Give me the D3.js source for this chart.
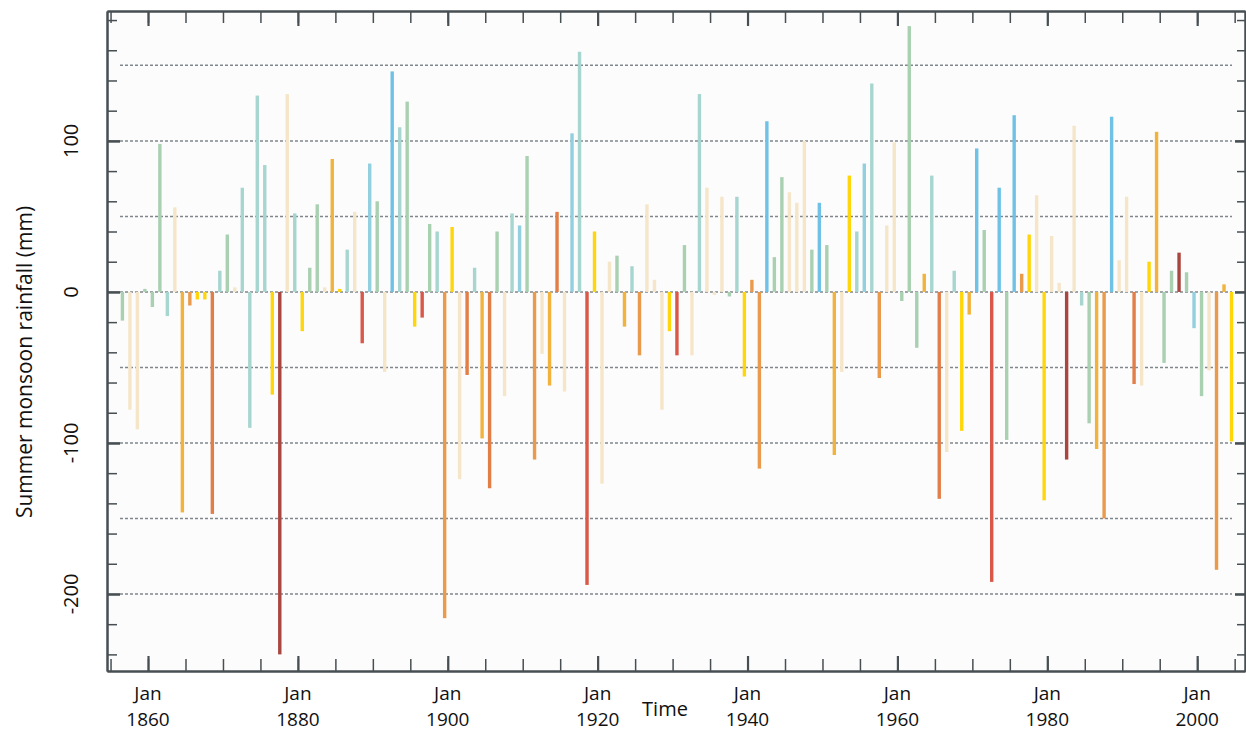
<!DOCTYPE html>
<html>
<head>
<meta charset="utf-8">
<script src="https://cdn.jsdelivr.net/npm/d3@7"></script>
<style>
  body { margin: 0; background: #ffffff; }
  svg { display: block; }
</style>
</head>
<body>
<div id="container"></div>
<script>
// one bar per summer monsoon, 1856 - 2004
const firstYear = 1856;
const rainfall = [
  -19, -78, -91, 2, -10, 98, -16, 56, -146, -9,
  -5, -5, -147, 14, 38, 3, 69, -90, 130, 84,
  -68, -240, 131, 52, -26, 16, 58, 3, 88, 2,
  28, 53, -34, 85, 60, -53, 146, 109, 126, -23,
  -17, 45, 40, -216, 43, -124, -55, 16, -97, -130,
  40, -69, 52, 44, 90, -111, -41, -62, 53, -66,
  105, 159, -194, 40, -127, 20, 24, -23, 17, -42,
  58, 8, -78, -26, -42, 31, -42, 131, 69, -2,
  63, -3, 63, -56, 8, -117, 113, 23, 76, 66,
  59, 100, 28, 59, 31, -108, -53, 77, 40, 85,
  138, -57, 44, 99, -6, 176, -37, 12, 77, -137,
  -106, 14, -92, -15, 95, 41, -192, 69, -98, 117,
  12, 38, 64, -138, 37, 6, -111, 110, -9, -87,
  -104, -150, 116, 21, 63, -61, -62, 20, 106, -47,
  14, 26, 13, -24, -69, -52, -184, 5, -99
];
// colour class of every bar, same order
const barClass = (
  "g c c g g g t c a o " +
  "y y d t g c t t t t " +
  "y k c t y g g c a y " +
  "t c r l g c b t g y " +
  "r g t o y c d t a d " +
  "g c t l g o c a d c " +
  "l t r y c c g a t o " +
  "c c c y r g c t c c " +
  "c g t y o o b g g c " +
  "c c g b g a c y t l " +
  "t o c c g g g a t d " +
  "c t y a b g r b g b " +
  "o y c y c c k c t g " +
  "a o b c c d c y a g " +
  "g k g l g c o a y"
).split(" ");

const palette = {
  g: "#a9d0b1", t: "#a7d5cf", c: "#f6e6c9", b: "#6fc2e6", l: "#92d0df",
  y: "#ffd60a", a: "#f2b33d", o: "#ea9a4c", d: "#e27f48", r: "#d95849", k: "#a9463f"
};

const gridValues = [150, 100, 50, 0, -50, -100, -150, -200];
const yLabelValues = [100, 0, -100, -200];
const xLabelYears = [1860, 1880, 1900, 1920, 1940, 1960, 1980, 2000];

const data = rainfall.map((v, i) => ({ year: firstYear + i, value: v, cls: barClass[i] }));

const width = 1246, height = 732;
const plot = { left: 107, right: 1245, top: 11, bottom: 671 };
const axisColor = "#474f53";
const font = "'Open Sans', 'Noto Sans', sans-serif";

const svg = d3.select("#container").append("svg")
  .attr("width", width).attr("height", height);

svg.append("rect").attr("width", width).attr("height", height).attr("fill", "#ffffff");
svg.append("rect")
  .attr("x", plot.left).attr("y", plot.top)
  .attr("width", plot.right - plot.left).attr("height", plot.bottom - plot.top)
  .attr("fill", "#fcfcfc");

const xScale = d3.scaleTime()
  .domain([new Date(1854, 6, 12), new Date(2006, 4, 20)])
  .range([plot.left, plot.right]);

const yScale = d3.scaleLinear()
  .domain([-251, 186])
  .range([plot.bottom, plot.top]);

// dashed grid
svg.append("g")
  .selectAll("line")
  .data(gridValues)
  .enter()
  .append("line")
  .attr("x1", 120).attr("x2", 1232)
  .attr("y1", d => yScale(d)).attr("y2", d => yScale(d))
  .attr("stroke", "#80878c")
  .attr("stroke-width", 1.5)
  .attr("stroke-dasharray", "3,2");

// bars
svg.append("g")
  .selectAll("rect")
  .data(data)
  .enter()
  .append("rect")
  .attr("x", d => xScale(new Date(d.year, 7, 1)) - 1.7)
  .attr("width", 3.4)
  .attr("y", d => yScale(Math.max(0, d.value)))
  .attr("height", d => Math.abs(yScale(d.value) - yScale(0)))
  .attr("fill", d => palette[d.cls]);

// axes
const fiveYears = d3.range(1855, 2006, 5).map(y => new Date(y, 0, 1));
const twentyYears = xLabelYears.map(y => new Date(y, 0, 1));
const minorY = d3.range(-240, 181, 20).filter(v => v % 100 !== 0);

function styleAxis(g, w) {
  g.selectAll("path").attr("stroke", axisColor).attr("stroke-width", 2);
  g.selectAll("line").attr("stroke", axisColor).attr("stroke-width", w);
  g.selectAll("text").remove();
}

svg.append("g")
  .attr("transform", `translate(0,${plot.bottom})`)
  .call(d3.axisBottom(xScale).tickValues(fiveYears).tickSize(-12).tickSizeOuter(0))
  .call(g => styleAxis(g, 1.5));
svg.append("g")
  .attr("transform", `translate(0,${plot.bottom})`)
  .call(d3.axisBottom(xScale).tickValues(twentyYears).tickSize(-15).tickSizeOuter(0))
  .call(g => styleAxis(g, 2.2));
svg.append("g")
  .attr("transform", `translate(0,${plot.top})`)
  .call(d3.axisTop(xScale).tickValues(fiveYears).tickSize(-12).tickSizeOuter(0))
  .call(g => styleAxis(g, 1.5));
svg.append("g")
  .attr("transform", `translate(0,${plot.top})`)
  .call(d3.axisTop(xScale).tickValues(twentyYears).tickSize(-15).tickSizeOuter(0))
  .call(g => styleAxis(g, 2.2));

svg.append("g")
  .attr("transform", `translate(${plot.left},0)`)
  .call(d3.axisLeft(yScale).tickValues(minorY).tickSize(-10).tickSizeOuter(0))
  .call(g => styleAxis(g, 1.5));
svg.append("g")
  .attr("transform", `translate(${plot.left},0)`)
  .call(d3.axisLeft(yScale).tickValues(yLabelValues).tickSize(-13).tickSizeOuter(0))
  .call(g => styleAxis(g, 2.6));
svg.append("g")
  .attr("transform", `translate(${plot.right},0)`)
  .call(d3.axisRight(yScale).tickValues(minorY).tickSize(-8).tickSizeOuter(0))
  .call(g => styleAxis(g, 1.5));
svg.append("g")
  .attr("transform", `translate(${plot.right},0)`)
  .call(d3.axisRight(yScale).tickValues(yLabelValues).tickSize(-10).tickSizeOuter(0))
  .call(g => styleAxis(g, 2.6));

// y tick labels, rotated
svg.append("g")
  .selectAll("text")
  .data(yLabelValues)
  .enter()
  .append("text")
  .attr("transform", d => `translate(78,${yScale(d)}) rotate(-90)`)
  .attr("text-anchor", "middle")
  .style("font-family", font)
  .style("font-size", "20px")
  .attr("fill", "#111")
  .text(d => d);

// x tick labels
const xl = svg.append("g")
  .selectAll("text")
  .data(xLabelYears)
  .enter()
  .append("text")
  .attr("text-anchor", "middle")
  .style("font-family", font)
  .style("font-size", "19px")
  .attr("fill", "#111");
xl.append("tspan").attr("x", d => xScale(new Date(d, 0, 1))).attr("y", 700).text("Jan");
xl.append("tspan").attr("x", d => xScale(new Date(d, 0, 1))).attr("y", 726).text(d => d);

svg.append("text")
  .attr("x", 665).attr("y", 716)
  .attr("text-anchor", "middle")
  .style("font-family", font)
  .style("font-size", "20px")
  .attr("fill", "#111")
  .text("Time");

svg.append("text")
  .attr("transform", `translate(32,362) rotate(-90)`)
  .attr("text-anchor", "middle")
  .style("font-family", font)
  .style("font-size", "21px")
  .attr("fill", "#111")
  .text("Summer monsoon rainfall (mm)");
</script>
</body>
</html>
